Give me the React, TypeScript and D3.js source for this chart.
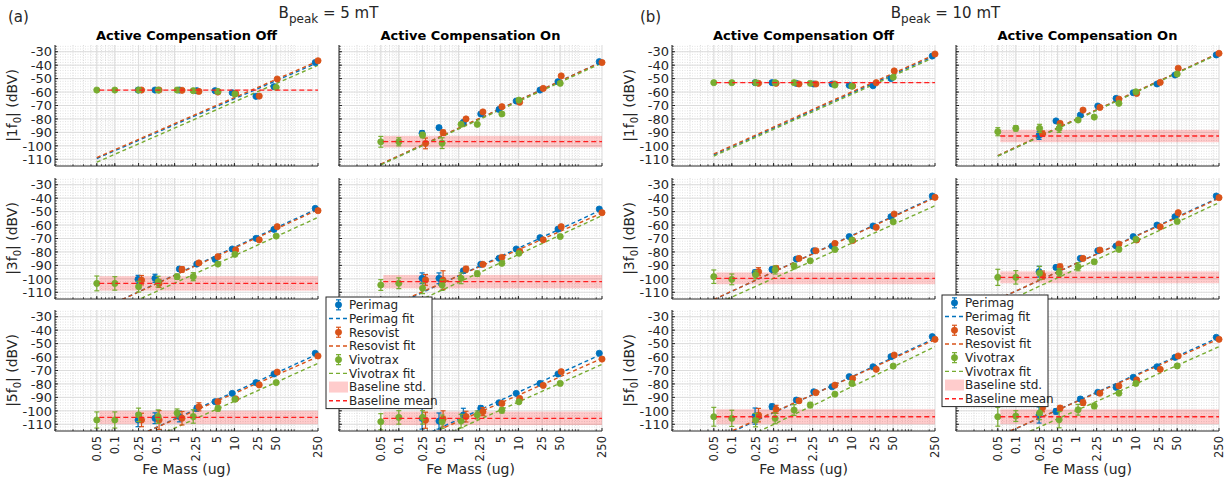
import React from 'react';
import * as d3 from 'd3';

// ---------- axes / categories ----------
const massTicks = [0.05, 0.1, 0.25, 0.5, 1, 2.25, 5, 10, 25, 50, 250];
const massTickLabels = ['0.05', '0.1', '0.25', '0.5', '1', '2.25', '5', '10', '25', '50', '250'];
const dbvTicks = [-110, -100, -90, -80, -70, -60, -50, -40, -30];
const X_DOMAIN = [0.01, 250];
const Y_DOMAIN = [-115, -25];
const FIT_RANGE = [0.05, 250];
const BASELINE_RANGE = [0.055, 250];

const seriesNames = ['Perimag', 'Resovist', 'Vivotrax'];
const seriesColors = ['#0072BD', '#D95319', '#77AC30'];

// Fe mass of each sample (ug)
const massPerimag = [0.245, 0.47, 1.2, 2.35, 4.75, 9.2, 23, 46, 225];
const massResovist = [0.28, 0.55, 1.33, 2.55, 5.3, 10.5, 26, 52, 250];
const massVivotrax = [0.05, 0.1, 0.25, 0.53, 1.1, 2.05, 5.3, 10.2, 50];

// ---------- (a) Bpeak = 5 mT ----------
// Off, |1f0|
const aOff1fPerimag = [-58.5, -58.5, -58.5, -59, -59, -60.5, -63.2, -56, -38];
const aOff1fResovist = [-58.5, -58.5, -58.7, -59.5, -60, -61, -63, -50.3, -36.7];
const aOff1fVivotrax = [-58.5, -58.5, -58.5, -58.5, -58.5, -59, -59.5, -61.5, -56.5];
const aOff1fErr = [[0.6, 0.6, 0.6, 0.6, 0.6, 0.6, 0.8, 0.6, 0.6], [0.6, 0.6, 0.6, 0.6, 0.6, 0.6, 0.8, 0.8, 0.6], [0.6, 0.6, 0.6, 0.6, 0.6, 0.6, 0.6, 0.8, 0.8]];
const aOff1fFit = [[19.3, -84.3], [19.4, -83.5], [19.5, -86.8]];
const aOff1fBase = [-58.5, 0.3];
// On, |1f0|
const aOn1fPerimag = [-90.7, -86.5, -82.5, -76.3, -72.9, -66.7, -58.5, -52.3, -37.4];
const aOn1fResovist = [-98.2, -90.2, -80, -74.8, -70.9, -67.6, -57.3, -48, -38];
const aOn1fVivotrax = [-97, -97, -92, -98, -84, -84, -76.3, -66, -53.5];
const aOn1fErr = [[2, 1, 1, 1, 1, 1, 1, 1, 1], [4, 2, 1, 1, 1, 1, 1, 1, 1], [4, 3, 2, 4, 1, 1, 1, 1, 1]];
const aOn1fFit = [[20.7, -87], [20.6, -86.8], [20.5, -87.5]];
const aOn1fBase = [-96.9, 4.3];
// Off, |3f0|
const aOff3fPerimag = [-100.4, -99.6, -92.7, -89, -85.5, -77.8, -69.9, -63.2, -47.6];
const aOff3fResovist = [-101, -103.4, -93, -88.2, -83.5, -78.5, -71, -61.2, -49.3];
const aOff3fVivotrax = [-103.4, -103.4, -105.8, -102.1, -98.4, -98.4, -89, -81.8, -68.2];
const aOff3fErr = [[3, 3, 1.5, 1, 1, 1, 1, 1, 1], [3.5, 3, 2, 1, 1, 1, 1, 1, 1], [5.5, 5, 4, 4, 2, 3, 1, 1, 1]];
const aOff3fFit = [[20.7, -97.2], [20.4, -97.5], [20.4, -103.2]];
const aOff3fBase = [-103.4, 5.4];
// On, |3f0|
const aOn3fPerimag = [-99.6, -99.6, -94, -89.2, -84.7, -77.8, -69.4, -63, -48.1];
const aOn3fResovist = [-100.8, -101, -92.7, -89.2, -84, -79.5, -71, -61.2, -50.8];
const aOn3fVivotrax = [-104.6, -103.3, -107, -104.6, -99.6, -96.2, -88.5, -81, -68.5];
const aOn3fErr = [[4, 4, 1.5, 1, 1, 1, 1, 1, 1], [4, 7, 2, 1, 1, 1, 1, 1, 1], [4, 4, 4, 4, 4, 2, 1, 1, 1]];
const aOn3fFit = [[20.5, -97.7], [19.5, -97.8], [20.7, -102.6]];
const aOn3fBase = [-102.1, 5];
// Off, |5f0|
const aOff5fPerimag = [-106.8, -105.5, -104.2, -98.2, -93.2, -87, -79, -72.6, -57.2];
const aOff5fResovist = [-106.8, -106.8, -105.5, -97, -93.2, -91, -80.7, -71.2, -59.2];
const aOff5fVivotrax = [-106.8, -106.8, -103, -104.3, -101.6, -104.2, -98.2, -91.4, -79];
const aOff5fErr = [[5, 4, 4, 2, 1, 1, 1, 1, 1], [5, 7, 5, 3, 1, 1, 1, 1, 1], [6, 6, 5, 5, 3, 5, 2, 1, 1]];
const aOff5fFit = [[20.2, -106.1], [19.5, -106.5], [20.1, -112.9]];
const aOff5fBase = [-104.9, 5];
// On, |5f0|
const aOn5fPerimag = [-105.6, -107.6, -103.1, -98.1, -94, -87, -79.6, -72.6, -57.2];
const aOn5fResovist = [-107, -106, -104.3, -100.6, -94.5, -90.8, -81.1, -70.9, -61.5];
const aOn5fVivotrax = [-108.1, -104.9, -104.9, -108.1, -107.6, -103.1, -99.6, -93.3, -79.6];
const aOn5fErr = [[8, 6, 5, 2, 1, 1, 1, 1, 1], [6, 6, 4, 3, 1, 1, 1, 1, 1], [6, 5, 5, 5, 5, 3, 2, 1, 1]];
const aOn5fFit = [[20.3, -106.4], [19.5, -107.8], [20, -113.4]];
const aOn5fBase = [-105.6, 5];

// ---------- (b) Bpeak = 10 mT ----------
const bOff1fPerimag = [-53, -53, -53.5, -54, -54, -55, -55.3, -50, -33.2];
const bOff1fResovist = [-53.5, -53.5, -54, -54, -54, -55.5, -53, -44.3, -31.7];
const bOff1fVivotrax = [-53, -53, -53, -53, -53, -53.5, -54.8, -55.6, -49];
const bOff1fErr = [[0.6, 0.6, 0.6, 0.6, 0.6, 0.6, 0.8, 0.8, 0.6], [0.6, 0.6, 0.6, 0.6, 0.6, 0.6, 0.8, 0.8, 0.6], [0.6, 0.6, 0.6, 0.6, 0.6, 0.6, 0.6, 0.8, 0.8]];
const bOff1fFit = [[19.95, -80.8], [20, -80], [19.9, -81.7]];
const bOff1fBase = [-53, 0.3];

const bOn1fPerimag = [-92.2, -81.5, -77.1, -70.4, -64.7, -60.5, -54, -47.3, -32.4];
const bOn1fResovist = [-91, -83.3, -73.4, -71.4, -65.2, -61, -52.8, -42.3, -31.2];
const bOn1fVivotrax = [-89.5, -87, -87, -87, -80.8, -78.6, -68.4, -59.8, -46.6];
const bOn1fErr = [[3, 1, 1, 1, 1, 1, 1, 1, 1], [2, 1, 1, 1, 1, 1, 1, 1, 1], [3, 2, 3, 3, 1, 1, 1, 1, 1]];
const bOn1fFit = [[20.6, -80.6], [20.6, -80.4], [20.6, -80.9]];
const bOn1fBase = [-92.7, 4.6];

const bOff3fPerimag = [-95.4, -93, -85.3, -79.1, -75.6, -68.6, -60.7, -53.8, -38.4];
const bOff3fResovist = [-94.7, -92.2, -84.8, -79.1, -73.7, -71.5, -61.7, -51.8, -39.4];
const bOff3fVivotrax = [-98.4, -100.4, -97, -93.4, -90.5, -86.6, -78.2, -71.1, -57.5];
const bOff3fErr = [[2, 1.5, 1, 1, 1, 1, 1, 1, 1], [3, 2, 1, 1, 1, 1, 1, 1, 1], [5, 4, 3, 3, 2, 1, 1, 1, 1]];
const bOff3fFit = [[20.7, -88.6], [20.5, -88.7], [20, -93.6]];
const bOff3fBase = [-99.6, 4.4];

const bOn3fPerimag = [-94.7, -91.5, -84.8, -79.1, -75.6, -68.6, -60, -53.8, -38.4];
const bOn3fResovist = [-97.2, -91, -84.8, -78.6, -74.1, -71.1, -61.3, -50.8, -39.6];
const bOn3fVivotrax = [-98.9, -98.9, -95.7, -95.4, -91, -87.3, -78.1, -70.6, -57.3];
const bOn3fErr = [[4, 1.5, 1, 1, 1, 1, 1, 1, 1], [3, 2, 1, 1, 1, 1, 1, 1, 1], [6, 5, 5, 3, 3, 1.5, 1, 1, 1]];
const bOn3fFit = [[20.5, -88.7], [20.3, -88.8], [20.7, -93]];
const bOn3fBase = [-98.9, 4.4];

const bOff5fPerimag = [-103.9, -96.9, -92, -85.8, -82.1, -74.6, -67.2, -59.7, -44.8];
const bOff5fResovist = [-103.2, -98.9, -92.5, -86.5, -80.9, -76, -69.1, -58.5, -46.8];
const bOff5fVivotrax = [-104.4, -105.6, -106.9, -105.6, -99.4, -95.7, -87.6, -79.6, -66.7];
const bOff5fErr = [[6, 2, 1.5, 1, 1, 1, 1, 1, 1], [5, 3, 1.5, 1, 1, 1, 1, 1, 1], [7, 6, 5, 4, 4, 2, 1, 1, 1]];
const bOff5fFit = [[20.5, -95.2], [20, -95], [21.4, -103.6]];
const bOff5fBase = [-104.4, 5.6];

const bOn5fPerimag = [-103.1, -100.4, -91.2, -86.2, -82.5, -75.1, -67.2, -60.2, -45.3];
const bOn5fResovist = [-97.7, -98, -93.9, -86.9, -81.5, -77, -69.1, -59.2, -46.8];
const bOn5fVivotrax = [-104.4, -103.9, -101.6, -106.6, -99.2, -96.4, -86.9, -79.6, -66.6];
const bOn5fErr = [[6, 2, 1.5, 1, 1, 1, 1, 1, 1], [3, 2, 2, 1, 1, 1, 1, 1, 1], [7, 4, 5, 6, 4, 2, 1, 1, 1]];
const bOn5fFit = [[20, -93.3], [19.6, -93.5], [19.9, -100]];
const bOn5fBase = [-104.4, 5.5];

const harmonics = ['1', '3', '5'];
const groupLabels = ['(a)', '(b)'];
const groupFields = ['5 mT', '10 mT'];
const colTitles = ['Active Compensation Off', 'Active Compensation On'];

// ---------- layout ----------
const W = 1231;
const H = 481;
const PANEL_W = 263;
const PANEL_H = 121;
const COL_LEFTS = [55, 339, 672, 956];
const ROW_TOPS = [45, 178, 310];
const FONT = 'DejaVu Sans, Liberation Sans, sans-serif';
const INK = '#262626';

const masses = [massPerimag, massResovist, massVivotrax];

type PanelDef = { vals: number[][]; err: number[][]; fit: number[][]; base: number[] };
const mk = (p: number[], r: number[], v: number[], err: number[][], fit: number[][], base: number[]): PanelDef => ({ vals: [p, r, v], err, fit, base });

// [group][col][row]
const panelData: PanelDef[][][] = [
  [
    [mk(aOff1fPerimag, aOff1fResovist, aOff1fVivotrax, aOff1fErr, aOff1fFit, aOff1fBase),
     mk(aOff3fPerimag, aOff3fResovist, aOff3fVivotrax, aOff3fErr, aOff3fFit, aOff3fBase),
     mk(aOff5fPerimag, aOff5fResovist, aOff5fVivotrax, aOff5fErr, aOff5fFit, aOff5fBase)],
    [mk(aOn1fPerimag, aOn1fResovist, aOn1fVivotrax, aOn1fErr, aOn1fFit, aOn1fBase),
     mk(aOn3fPerimag, aOn3fResovist, aOn3fVivotrax, aOn3fErr, aOn3fFit, aOn3fBase),
     mk(aOn5fPerimag, aOn5fResovist, aOn5fVivotrax, aOn5fErr, aOn5fFit, aOn5fBase)],
  ],
  [
    [mk(bOff1fPerimag, bOff1fResovist, bOff1fVivotrax, bOff1fErr, bOff1fFit, bOff1fBase),
     mk(bOff3fPerimag, bOff3fResovist, bOff3fVivotrax, bOff3fErr, bOff3fFit, bOff3fBase),
     mk(bOff5fPerimag, bOff5fResovist, bOff5fVivotrax, bOff5fErr, bOff5fFit, bOff5fBase)],
    [mk(bOn1fPerimag, bOn1fResovist, bOn1fVivotrax, bOn1fErr, bOn1fFit, bOn1fBase),
     mk(bOn3fPerimag, bOn3fResovist, bOn3fVivotrax, bOn3fErr, bOn3fFit, bOn3fBase),
     mk(bOn5fPerimag, bOn5fResovist, bOn5fVivotrax, bOn5fErr, bOn5fFit, bOn5fBase)],
  ],
];

const minorMass: number[] = [];
for (let e = -2; e <= 2; e++) for (let m = 1; m <= 9; m++) {
  const v = m * Math.pow(10, e);
  if (v >= X_DOMAIN[0] && v <= X_DOMAIN[1]) minorMass.push(v);
}
const minorDbv = d3.range(-114, -25, 2);

function Panel({ id, left, top, def, showY, showX, harm }: any) {
  const x = d3.scaleLog().domain(X_DOMAIN).range([left, left + PANEL_W]);
  const y = d3.scaleLinear().domain(Y_DOMAIN).range([top + PANEL_H, top]);
  const bottom = top + PANEL_H;
  const right = left + PANEL_W;
  const [bm, bs] = def.base;
  return (
    <g>
      <defs>
        <clipPath id={id}>
          <rect x={left} y={top} width={PANEL_W} height={PANEL_H} />
        </clipPath>
      </defs>
      {/* minor grid */}
      {minorMass.map((m, i) => (
        <line key={'mx' + i} x1={x(m)} x2={x(m)} y1={top} y2={bottom} stroke="#c8c8c8" strokeWidth={0.6} strokeDasharray="1,1.5" />
      ))}
      {minorDbv.map((v, i) => (
        <line key={'my' + i} x1={left} x2={right} y1={y(v)} y2={y(v)} stroke="#cfcfcf" strokeWidth={0.6} strokeDasharray="1,1.5" />
      ))}
      {/* major grid */}
      {massTicks.map((m, i) => (
        <line key={'gx' + i} x1={x(m)} x2={x(m)} y1={top} y2={bottom} stroke="#dcdcdc" strokeWidth={1} />
      ))}
      {dbvTicks.map((v, i) => (
        <line key={'gy' + i} x1={left} x2={right} y1={y(v)} y2={y(v)} stroke="#dcdcdc" strokeWidth={1} />
      ))}
      <g clipPath={`url(#${id})`}>
        {/* baseline std */}
        <rect x={x(BASELINE_RANGE[0])} width={x(BASELINE_RANGE[1]) - x(BASELINE_RANGE[0])}
          y={y(bm + bs)} height={Math.max(0.5, y(bm - bs) - y(bm + bs))} fill="#ff0000" fillOpacity={0.2} />
        {/* fits */}
        {def.fit.map((f: number[], s: number) => {
          const d = d3.line<number>().x((m) => x(m)).y((m) => y(f[1] + f[0] * Math.log10(m)))(FIT_RANGE);
          return <path key={'f' + s} d={d || ''} fill="none" stroke={seriesColors[s]} strokeWidth={1.4} strokeDasharray="4,3" />;
        })}
      </g>
      {/* data with error bars */}
      {def.vals.map((vals: number[], s: number) => (
        <g key={'s' + s} stroke={seriesColors[s]} fill={seriesColors[s]}>
          {vals.map((v, i) => {
            const cx = x(masses[s][i]);
            const e = def.err[s][i];
            const y1 = Math.min(y(v - e), bottom);
            const y2 = y(v + e);
            return (
              <g key={i}>
                <line x1={cx} x2={cx} y1={y1} y2={y2} strokeWidth={1.2} />
                <line x1={cx - 2.5} x2={cx + 2.5} y1={y1} y2={y1} strokeWidth={1.2} />
                <line x1={cx - 2.5} x2={cx + 2.5} y1={y2} y2={y2} strokeWidth={1.2} />
                <circle cx={cx} cy={y(v)} r={3.1} strokeWidth={0.8} />
              </g>
            );
          })}
        </g>
      ))}
      {/* baseline mean */}
      <line x1={x(BASELINE_RANGE[0])} x2={x(BASELINE_RANGE[1])} y1={y(bm)} y2={y(bm)} stroke="#ff2020" strokeWidth={1.3} strokeDasharray="5,3" />
      {/* axes */}
      <line x1={left} x2={left} y1={top} y2={bottom} stroke={INK} strokeWidth={1} />
      <line x1={left} x2={right} y1={bottom} y2={bottom} stroke={INK} strokeWidth={1} />
      {dbvTicks.map((v, i) => (
        <line key={'ty' + i} x1={left} x2={left + 3} y1={y(v)} y2={y(v)} stroke={INK} />
      ))}
      {minorDbv.map((v, i) => (
        <line key={'tmy' + i} x1={left} x2={left + 1.8} y1={y(v)} y2={y(v)} stroke={INK} strokeWidth={0.8} />
      ))}
      {massTicks.map((m, i) => (
        <line key={'tx' + i} x1={x(m)} x2={x(m)} y1={bottom} y2={bottom - 3} stroke={INK} />
      ))}
      {minorMass.map((m, i) => (
        <line key={'tmx' + i} x1={x(m)} x2={x(m)} y1={bottom} y2={bottom - 1.8} stroke={INK} strokeWidth={0.8} />
      ))}
      {showY && dbvTicks.map((v, i) => (
        <text key={'ly' + i} x={left - 3} y={y(v)} dy="0.36em" textAnchor="end" fontSize={13} fill={INK} fontFamily={FONT}>{v}</text>
      ))}
      {showY && (
        <text transform={`translate(${left - 38},${top + PANEL_H / 2}) rotate(-90)`} textAnchor="middle" fontSize={14} fill={INK} fontFamily={FONT}>
          |{harm}f<tspan fontSize={10} dy={4}>0</tspan><tspan dy={-4}>| (dBV)</tspan>
        </text>
      )}
      {showX && massTicks.map((m, i) => (
        <text key={'lx' + i} transform={`translate(${x(m)},${bottom + 5}) rotate(-90)`} dy="0.36em" textAnchor="end" fontSize={11.5} fill={INK} fontFamily={FONT}>{massTickLabels[i]}</text>
      ))}
      {showX && (
        <text x={left + PANEL_W / 2} y={bottom + 43} textAnchor="middle" fontSize={14} fill={INK} fontFamily={FONT}>Fe Mass (ug)</text>
      )}
    </g>
  );
}

function Legend({ left, top }: any) {
  const rowH = 13.7;
  const w = 106;
  const items: any[] = [];
  seriesNames.forEach((n, s) => {
    items.push({ kind: 'pt', label: n, color: seriesColors[s] });
    items.push({ kind: 'fit', label: n + ' fit', color: seriesColors[s] });
  });
  items.push({ kind: 'std', label: 'Baseline std.', color: '#ff0000' });
  items.push({ kind: 'mean', label: 'Baseline mean', color: '#ff2020' });
  return (
    <g>
      <rect x={left} y={top} width={w} height={rowH * items.length + 2} fill="#fff" stroke={INK} strokeWidth={1} />
      {items.map((it, i) => {
        const cy = top + 1 + rowH * (i + 0.5);
        const sx0 = left + 3;
        const sx1 = left + 22;
        const cx = (sx0 + sx1) / 2;
        let sym: any = null;
        if (it.kind === 'pt') {
          sym = (
            <g stroke={it.color} fill={it.color}>
              <line x1={cx} x2={cx} y1={cy - 5} y2={cy + 5} strokeWidth={1.2} />
              <line x1={cx - 2.5} x2={cx + 2.5} y1={cy - 5} y2={cy - 5} strokeWidth={1.2} />
              <line x1={cx - 2.5} x2={cx + 2.5} y1={cy + 5} y2={cy + 5} strokeWidth={1.2} />
              <circle cx={cx} cy={cy} r={3.1} strokeWidth={0.8} />
            </g>
          );
        } else if (it.kind === 'fit' || it.kind === 'mean') {
          sym = <line x1={sx0} x2={sx1} y1={cy} y2={cy} stroke={it.color} strokeWidth={1.4} strokeDasharray="4,3" />;
        } else {
          sym = <rect x={sx0} y={cy - 5.5} width={sx1 - sx0} height={11} fill={it.color} fillOpacity={0.2} />;
        }
        return (
          <g key={i}>
            {sym}
            <text x={left + 23} y={cy} dy="0.36em" fontSize={12} fill={INK} fontFamily={FONT}>{it.label}</text>
          </g>
        );
      })}
    </g>
  );
}

export default function App() {
  const panels: any[] = [];
  panelData.forEach((grp, g) => {
    grp.forEach((col, c) => {
      col.forEach((def, r) => {
        const left = COL_LEFTS[g * 2 + c];
        panels.push(
          <Panel key={`p${g}${c}${r}`} id={`clip${g}${c}${r}`} left={left} top={ROW_TOPS[r]} def={def}
            showY={c === 0} showX={r === 2} harm={harmonics[r]} />
        );
      });
    });
  });
  return (
    <svg width={W} height={H} style={{ position: 'absolute', left: 0, top: 0, background: '#fff' }} fontFamily={FONT}>
      <rect x={0} y={0} width={W} height={H} fill="#fff" />
      {panels}
      {[0, 1].map((g) => {
        const gl = COL_LEFTS[g * 2];
        const gr = COL_LEFTS[g * 2 + 1] + PANEL_W;
        return (
          <g key={'g' + g}>
            <text x={g === 0 ? 8 : 640} y={22} fontSize={15} fill={INK}>{groupLabels[g]}</text>
            <text x={(gl + gr) / 2} y={18} textAnchor="middle" fontSize={15} fill={INK}>
              B<tspan fontSize={12} dy={5}>peak</tspan><tspan dy={-5}> = {groupFields[g]}</tspan>
            </text>
            {[0, 1].map((c) => (
              <text key={c} x={COL_LEFTS[g * 2 + c] + PANEL_W / 2} y={40} textAnchor="middle" fontSize={13} fontWeight="bold" fill="#000">{colTitles[c]}</text>
            ))}
          </g>
        );
      })}
      <Legend left={326} top={297} />
      <Legend left={942} top={295} />
    </svg>
  );
}
